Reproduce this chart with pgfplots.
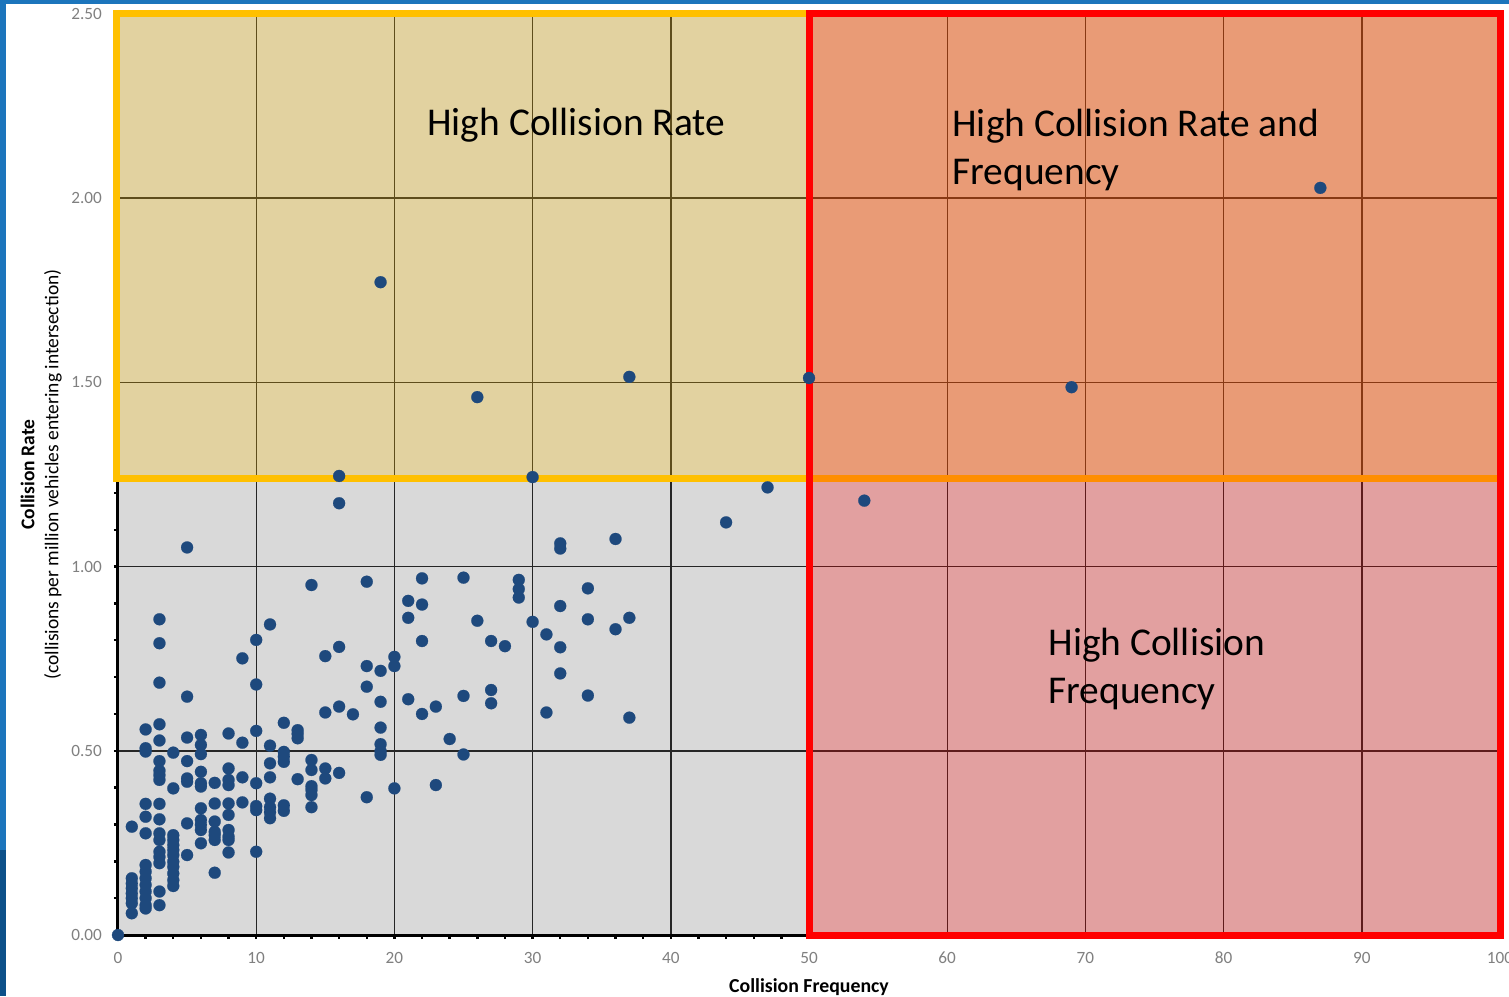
\documentclass[border=0pt]{standalone}
\usepackage{fontspec}
\setmainfont{Carlito}
\usepackage{pgfplots}
\pgfplotsset{compat=1.18}
\definecolor{ptblue}{RGB}{30,73,125}
\definecolor{bggray}{RGB}{217,217,217}
\definecolor{gold}{RGB}{255,192,0}
\definecolor{stripe}{RGB}{28,117,188}
\definecolor{stripedark}{RGB}{13,80,137}
\definecolor{ticklab}{RGB}{128,128,128}
\begin{document}
\begin{tikzpicture}[x=1pt,y=1pt]
\useasboundingbox (0,0) rectangle (754.5,498);
\fill[white] (0,0) rectangle (754.5,498);
\fill[stripe] (0,73) rectangle (3,498);
\fill[stripedark] (0,0) rectangle (3,73);
\fill[stripe] (0,496) rectangle (754.5,498);
\begin{axis}[
  at={(59pt,30.5pt)}, anchor=south west,
  scale only axis, width=691pt, height=460.5pt,
  xmin=0, xmax=100, ymin=0, ymax=2.5,
  clip=false,
  axis background/.style={fill=bggray},
  axis x line*=bottom, axis y line*=left,
  axis line style={black, line width=1.5pt},
  xtick={0,10,...,100}, ytick={0,0.5,...,2.5},
  minor x tick num=4, minor y tick num=4,
  tick align=outside,
  tick style={black, line width=1.2pt},
  major tick length=2pt, minor tick length=2pt,
  grid=major,
  major grid style={black!85, line width=0.7pt},
  /pgf/number format/assume math mode=true,
  ticklabel style={font=\fontsize{8.6}{10}\selectfont, text=ticklab},
  yticklabel style={xshift=-2.5pt, /pgf/number format/.cd, fixed, fixed zerofill, precision=2},
  xticklabel style={yshift=-3pt, /pgf/number format/.cd, fixed, precision=0},
  xlabel={\textbf{Collision Frequency}},
  xlabel style={at={(axis description cs:0.5,-0.0625)}, anchor=base, inner sep=0pt, font=\fontsize{9.9}{12}\selectfont},
  ylabel={\textbf{Collision Rate}\\(collisions per million vehicles entering intersection)},
  ylabel style={at={(axis description cs:-0.0405,0.5)}, anchor=south, align=center, inner sep=0pt, font=\fontsize{9.75}{12}\selectfont},
]
\addplot[only marks, color=ptblue, mark=*, mark size=3pt, mark options={draw=ptblue, fill=ptblue, line width=0.1pt}] coordinates {
(0,0)
(1,0.294) (1,0.154) (1,0.140) (1,0.127) (1,0.113) (1,0.100) (1,0.086) (1,0.059)
(2,0.558) (2,0.507) (2,0.498) (2,0.356) (2,0.321) (2,0.276) (2,0.190) (2,0.172) (2,0.154) (2,0.136) (2,0.118) (2,0.100) (2,0.081) (2,0.072)
(3,0.857) (3,0.792) (3,0.685) (3,0.572) (3,0.528) (3,0.472) (3,0.446) (3,0.434) (3,0.421) (3,0.356) (3,0.314) (3,0.276) (3,0.258) (3,0.226) (3,0.212) (3,0.195) (3,0.118) (3,0.081)
(4,0.495) (4,0.398) (4,0.271) (4,0.258) (4,0.244) (4,0.231) (4,0.217) (4,0.199) (4,0.185) (4,0.167) (4,0.149) (4,0.133)
(5,1.052) (5,0.647) (5,0.536) (5,0.472) (5,0.425) (5,0.416) (5,0.303) (5,0.217)
(6,0.543) (6,0.516) (6,0.491) (6,0.443) (6,0.412) (6,0.403) (6,0.344) (6,0.312) (6,0.299) (6,0.285) (6,0.249)
(7,0.413) (7,0.357) (7,0.308) (7,0.280) (7,0.271) (7,0.258) (7,0.169)
(8,0.547) (8,0.452) (8,0.421) (8,0.407) (8,0.357) (8,0.326) (8,0.285) (8,0.267) (8,0.258) (8,0.224)
(9,0.751) (9,0.522) (9,0.428) (9,0.360)
(10,0.801) (10,0.680) (10,0.554) (10,0.412) (10,0.350) (10,0.339) (10,0.226)
(11,0.843) (11,0.514) (11,0.466) (11,0.428) (11,0.370) (11,0.347) (11,0.333) (11,0.317)
(12,0.576) (12,0.497) (12,0.484) (12,0.470) (12,0.352) (12,0.337)
(13,0.556) (13,0.546) (13,0.534) (13,0.423)
(14,0.950) (14,0.475) (14,0.448) (14,0.404) (14,0.394) (14,0.380) (14,0.347)
(15,0.757) (15,0.604) (15,0.452) (15,0.425)
(16,1.246) (16,1.172) (16,0.782) (16,0.620) (16,0.440)
(17,0.599)
(18,0.959) (18,0.730) (18,0.674) (18,0.374)
(19,1.772) (19,0.717) (19,0.633) (19,0.563) (19,0.518) (19,0.499) (19,0.489)
(20,0.755) (20,0.730) (20,0.398)
(21,0.907) (21,0.861) (21,0.640)
(22,0.968) (22,0.897) (22,0.798) (22,0.600)
(23,0.620) (23,0.407)
(24,0.532)
(25,0.970) (25,0.649) (25,0.490)
(26,1.460) (26,0.853)
(27,0.798) (27,0.665) (27,0.629)
(28,0.784)
(29,0.964) (29,0.939) (29,0.916)
(30,1.243) (30,0.850)
(31,0.816) (31,0.604)
(32,1.063) (32,1.049) (32,0.893) (32,0.781) (32,0.710)
(34,0.941) (34,0.857) (34,0.650)
(36,1.075) (36,0.830)
(37,1.515) (37,0.861) (37,0.590)
(44,1.120) (47,1.215) (50,1.512) (54,1.179) (69,1.487) (87,2.028)
};
\fill[gold, fill opacity=0.26] (0,1.24) rectangle (100,2.5);
\draw[gold, line width=3.5pt] (-0.12,1.24) rectangle (100,2.5);
\fill[red, fill opacity=0.26] (50,0) rectangle (100,2.5);
\draw[red, line width=3.5pt] (50,0) rectangle (100,2.5);
\node[anchor=west, inner sep=0pt, font=\fontsize{19.7}{24}\selectfont] at (22.36,2.197) {High Collision Rate};
\node[anchor=west, align=left, inner sep=0pt, font=\fontsize{19.7}{24}\selectfont] at (60.35,2.132) {High Collision Rate and\\Frequency};
\node[anchor=west, align=left, inner sep=0pt, font=\fontsize{19.7}{24}\selectfont] at (67.3,0.722) {High Collision\\Frequency};
\end{axis}
\end{tikzpicture}
\end{document}
